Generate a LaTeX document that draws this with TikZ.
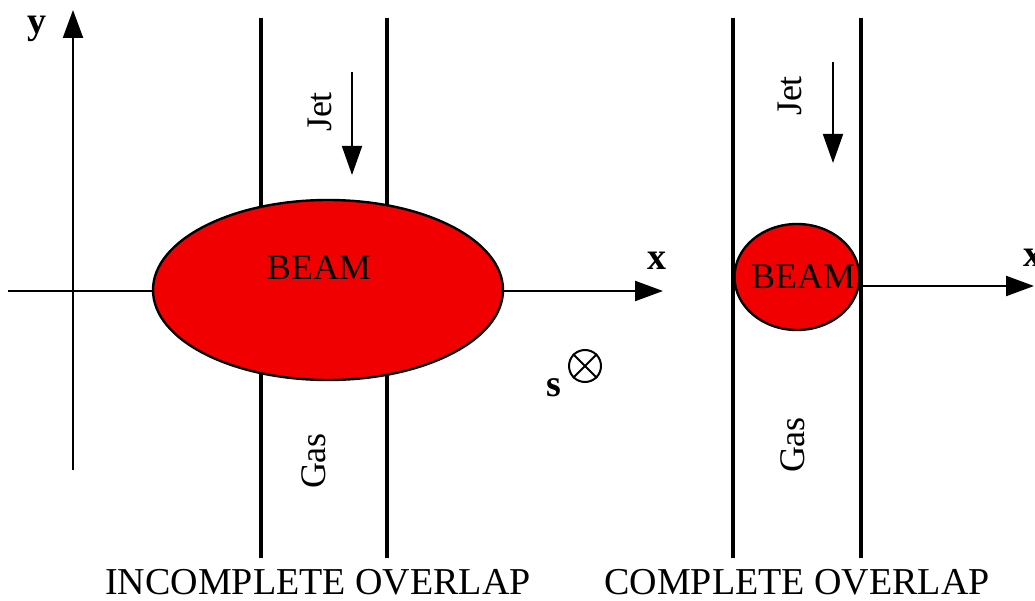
\documentclass[tikz,border=0pt]{standalone}
\usepackage{fontspec}
\setmainfont{Liberation Serif}
\usetikzlibrary{arrows.meta,shapes.geometric}
\definecolor{beamred}{RGB}{240,0,0}
\tikzset{
  axis/.style={line width=2.2pt},
  bigtip/.style={-{Triangle[length=28pt,width=20pt]}},
  wall/.style={line width=3.5pt},
  beam/.style={ellipse,draw,line width=2.4pt,fill=beamred,inner sep=0pt},
  lbl/.style={font=\fontsize{36}{40}\selectfont,inner sep=0pt},
  axlbl/.style={font=\fontsize{38}{42}\selectfont\bfseries,inner sep=0pt},
  title/.style={font=\fontsize{38}{42}\selectfont,inner sep=0pt},
  jetarrow/.style={line width=1.8pt,-{Triangle[length=29pt,width=20pt]}},
}
\begin{document}
\begin{tikzpicture}[x=1pt,y=-1pt]
\useasboundingbox (0,0) rectangle (1035,601);

% ---------- incomplete overlap ----------
\coordinate (yb) at (73,470);
\coordinate (yt) at (73,10);
\coordinate (xl) at (8,291);
\coordinate (xr) at (663,291);
\draw[axis,bigtip] (yb) -- (yt);
\draw[axis,bigtip] (xl) -- (xr);
\node[axlbl] (ylab) at (37,29) {y};
\node[axlbl] (xlab) at (657,261) {x};

\coordinate (wl1) at (261,18);  \coordinate (wl2) at (261,558);
\coordinate (wr1) at (387,18);  \coordinate (wr2) at (387,558);
\draw[wall] (wl1) -- (wl2);
\draw[wall] (wr1) -- (wr2);

\node[beam,minimum width=350pt,minimum height=180pt] (beamL) at (328,290) {};
\node[lbl] (beamLt) at (319,268) {BEAM};

\node[lbl,rotate=90] (jetL) at (320,112) {Jet};
\coordinate (jaL1) at (352,72);
\coordinate (jaL2) at (352,175);
\draw[jetarrow] (jaL1) -- (jaL2);
\node[lbl,rotate=90] (gasL) at (314,461) {Gas};

\node[title] (tL) at (318,582) {INCOMPLETE OVERLAP};

% beam direction
\node[circle,draw,line width=2pt,minimum size=32pt,inner sep=0pt] (sdir) at (585,366) {};
\draw[line width=2pt] (sdir.north west) -- (sdir.south east);
\draw[line width=2pt] (sdir.north east) -- (sdir.south west);
\node[axlbl] (slab) at (554,388) {s};

% ---------- complete overlap ----------
\node[beam,minimum width=125pt,minimum height=106pt] (beamR) at (797,277) {};
\node[lbl] (beamRt) at (803,277) {BEAM};

\coordinate (vl1) at (733,18);  \coordinate (vl2) at (733,558);
\coordinate (vr1) at (861,18);  \coordinate (vr2) at (861,558);
\draw[wall] (vl1) -- (vl2);
\draw[wall] (vr1) -- (vr2);

\coordinate (xr2) at (1034,286);
\draw[axis,bigtip] (beamR.east |- xr2) -- (xr2);
\node[axlbl] (xlab2) at (1033,258) {x};

\node[lbl,rotate=90] (jetR) at (790,96) {Jet};
\coordinate (jaR1) at (833,62);
\coordinate (jaR2) at (833,163);
\draw[jetarrow] (jaR1) -- (jaR2);
\node[lbl,rotate=90] (gasR) at (793,445) {Gas};

\node[title] (tR) at (797,582) {COMPLETE OVERLAP};
\end{tikzpicture}
\end{document}
